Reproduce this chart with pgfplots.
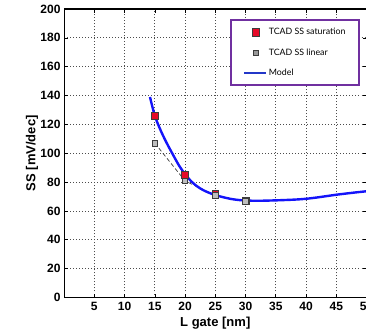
\documentclass[border=0pt]{standalone}
\usepackage{pgfplots}
\pgfplotsset{compat=1.18}
\usepackage{fontspec}
\setmainfont{Liberation Sans}
\newfontfamily\legfont{Lato}
\usetikzlibrary{calc}

\definecolor{satred}{RGB}{230,10,40}
\definecolor{lingray}{RGB}{190,190,190}
\definecolor{markedge}{RGB}{60,60,60}
\definecolor{modelblue}{RGB}{20,20,250}
\definecolor{legblue}{RGB}{35,55,200}
\definecolor{boxpurple}{RGB}{112,48,160}

% Subthreshold swing versus gate length
\pgfplotstableread{
L    SS
15   125.8
20   85.0
25   71.8
30   67.0
}\saturation
\pgfplotstableread{
L    SS
15   107.0
20   80.8
25   70.6
30   66.6
}\linear
\pgfplotstableread{
L     SS
14.2  139.0
15    126.0
16    115.5
17    106.8
18    99.0
19    91.5
20    85.5
21    80.6
22    77.0
23    74.4
24    72.5
25    71.0
26    69.8
27    68.8
28    68.0
29    67.5
30    67.2
32    67.0
35    67.3
38    67.8
40    68.4
42    69.4
45    71.2
48    72.7
50    73.6
51    74.0
}\model

\begin{document}
\begin{tikzpicture}
\begin{axis}[
  name=ax,
  scale only axis,
  width=302pt, height=288pt,
  xmin=0, xmax=50, ymin=0, ymax=200,
  xtick={5,10,...,50},
  ytick={0,20,...,200},
  tick align=inside,
  major tick length=3.5pt,
  tick style={black, line width=0.6pt},
  axis line style={black, line width=1.1pt},
  grid=major,
  major grid style={gray!60!black, line width=0.7pt, dash pattern=on 0.9pt off 2.1pt},
  /pgf/number format/assume math mode=true,
  tick label style={font=\fontsize{12}{13}\selectfont\bfseries},
  xticklabel style={yshift=-1pt},
  xlabel={L gate [nm]},
  ylabel={SS [mV/dec]},
  label style={font=\fontsize{13}{15}\selectfont\bfseries},
  xlabel style={at={(axis description cs:0.5,-0.09)}, anchor=center},
  ylabel style={at={(axis description cs:-0.106,0.5)}, anchor=center},
  legend cell align=left,
  legend image post style={xshift=4pt},
  legend style={
    at={(axis cs:49,193)}, anchor=north east,
    draw=boxpurple, line width=2pt,
    font=\legfont\fontsize{8.8}{11}\selectfont,
    inner xsep=12pt, inner ysep=6pt,
    row sep=8.5pt,
    nodes={inner sep=2pt},
  },
]
\addlegendimage{only marks, mark=square*, mark size=3.3pt,
  mark options={fill=satred, draw=markedge, line width=0.5pt, yscale=1.25}}
\addlegendentry{TCAD SS saturation}
\addlegendimage{only marks, mark=square*, mark size=2.3pt,
  mark options={fill=gray!80, draw=markedge, line width=0.5pt}}
\addlegendentry{TCAD SS linear}
\addlegendimage{legend image code/.code={\draw[legblue, line width=1.6pt] (-3pt,0pt) -- (19pt,0pt);}}
\addlegendentry{Model}

% dashed trend through the linear-regime points
\addplot[forget plot, markedge, line width=0.7pt, dash pattern=on 4pt off 2.5pt]
  table[x=L, y=SS] {\linear};
% compact model
\addplot[forget plot, modelblue, line width=2.4pt, smooth, tension=0.5]
  table[x=L, y=SS] {\model};
% TCAD points
\addplot[forget plot, only marks, mark=square*, mark size=3.4pt,
  mark options={fill=satred, draw=markedge, line width=0.7pt}]
  table[x=L, y=SS] {\saturation};
\addplot[forget plot, only marks, mark=square*, mark size=2.8pt,
  mark options={fill=lingray, draw=markedge, line width=0.8pt}]
  table[x=L, y=SS] {\linear};
\end{axis}
\pgfresetboundingbox
\useasboundingbox ($(ax.south west)+(-64pt,-34pt)$) rectangle ($(ax.north east)+(-0.5pt,9pt)$);
\end{tikzpicture}
\end{document}
